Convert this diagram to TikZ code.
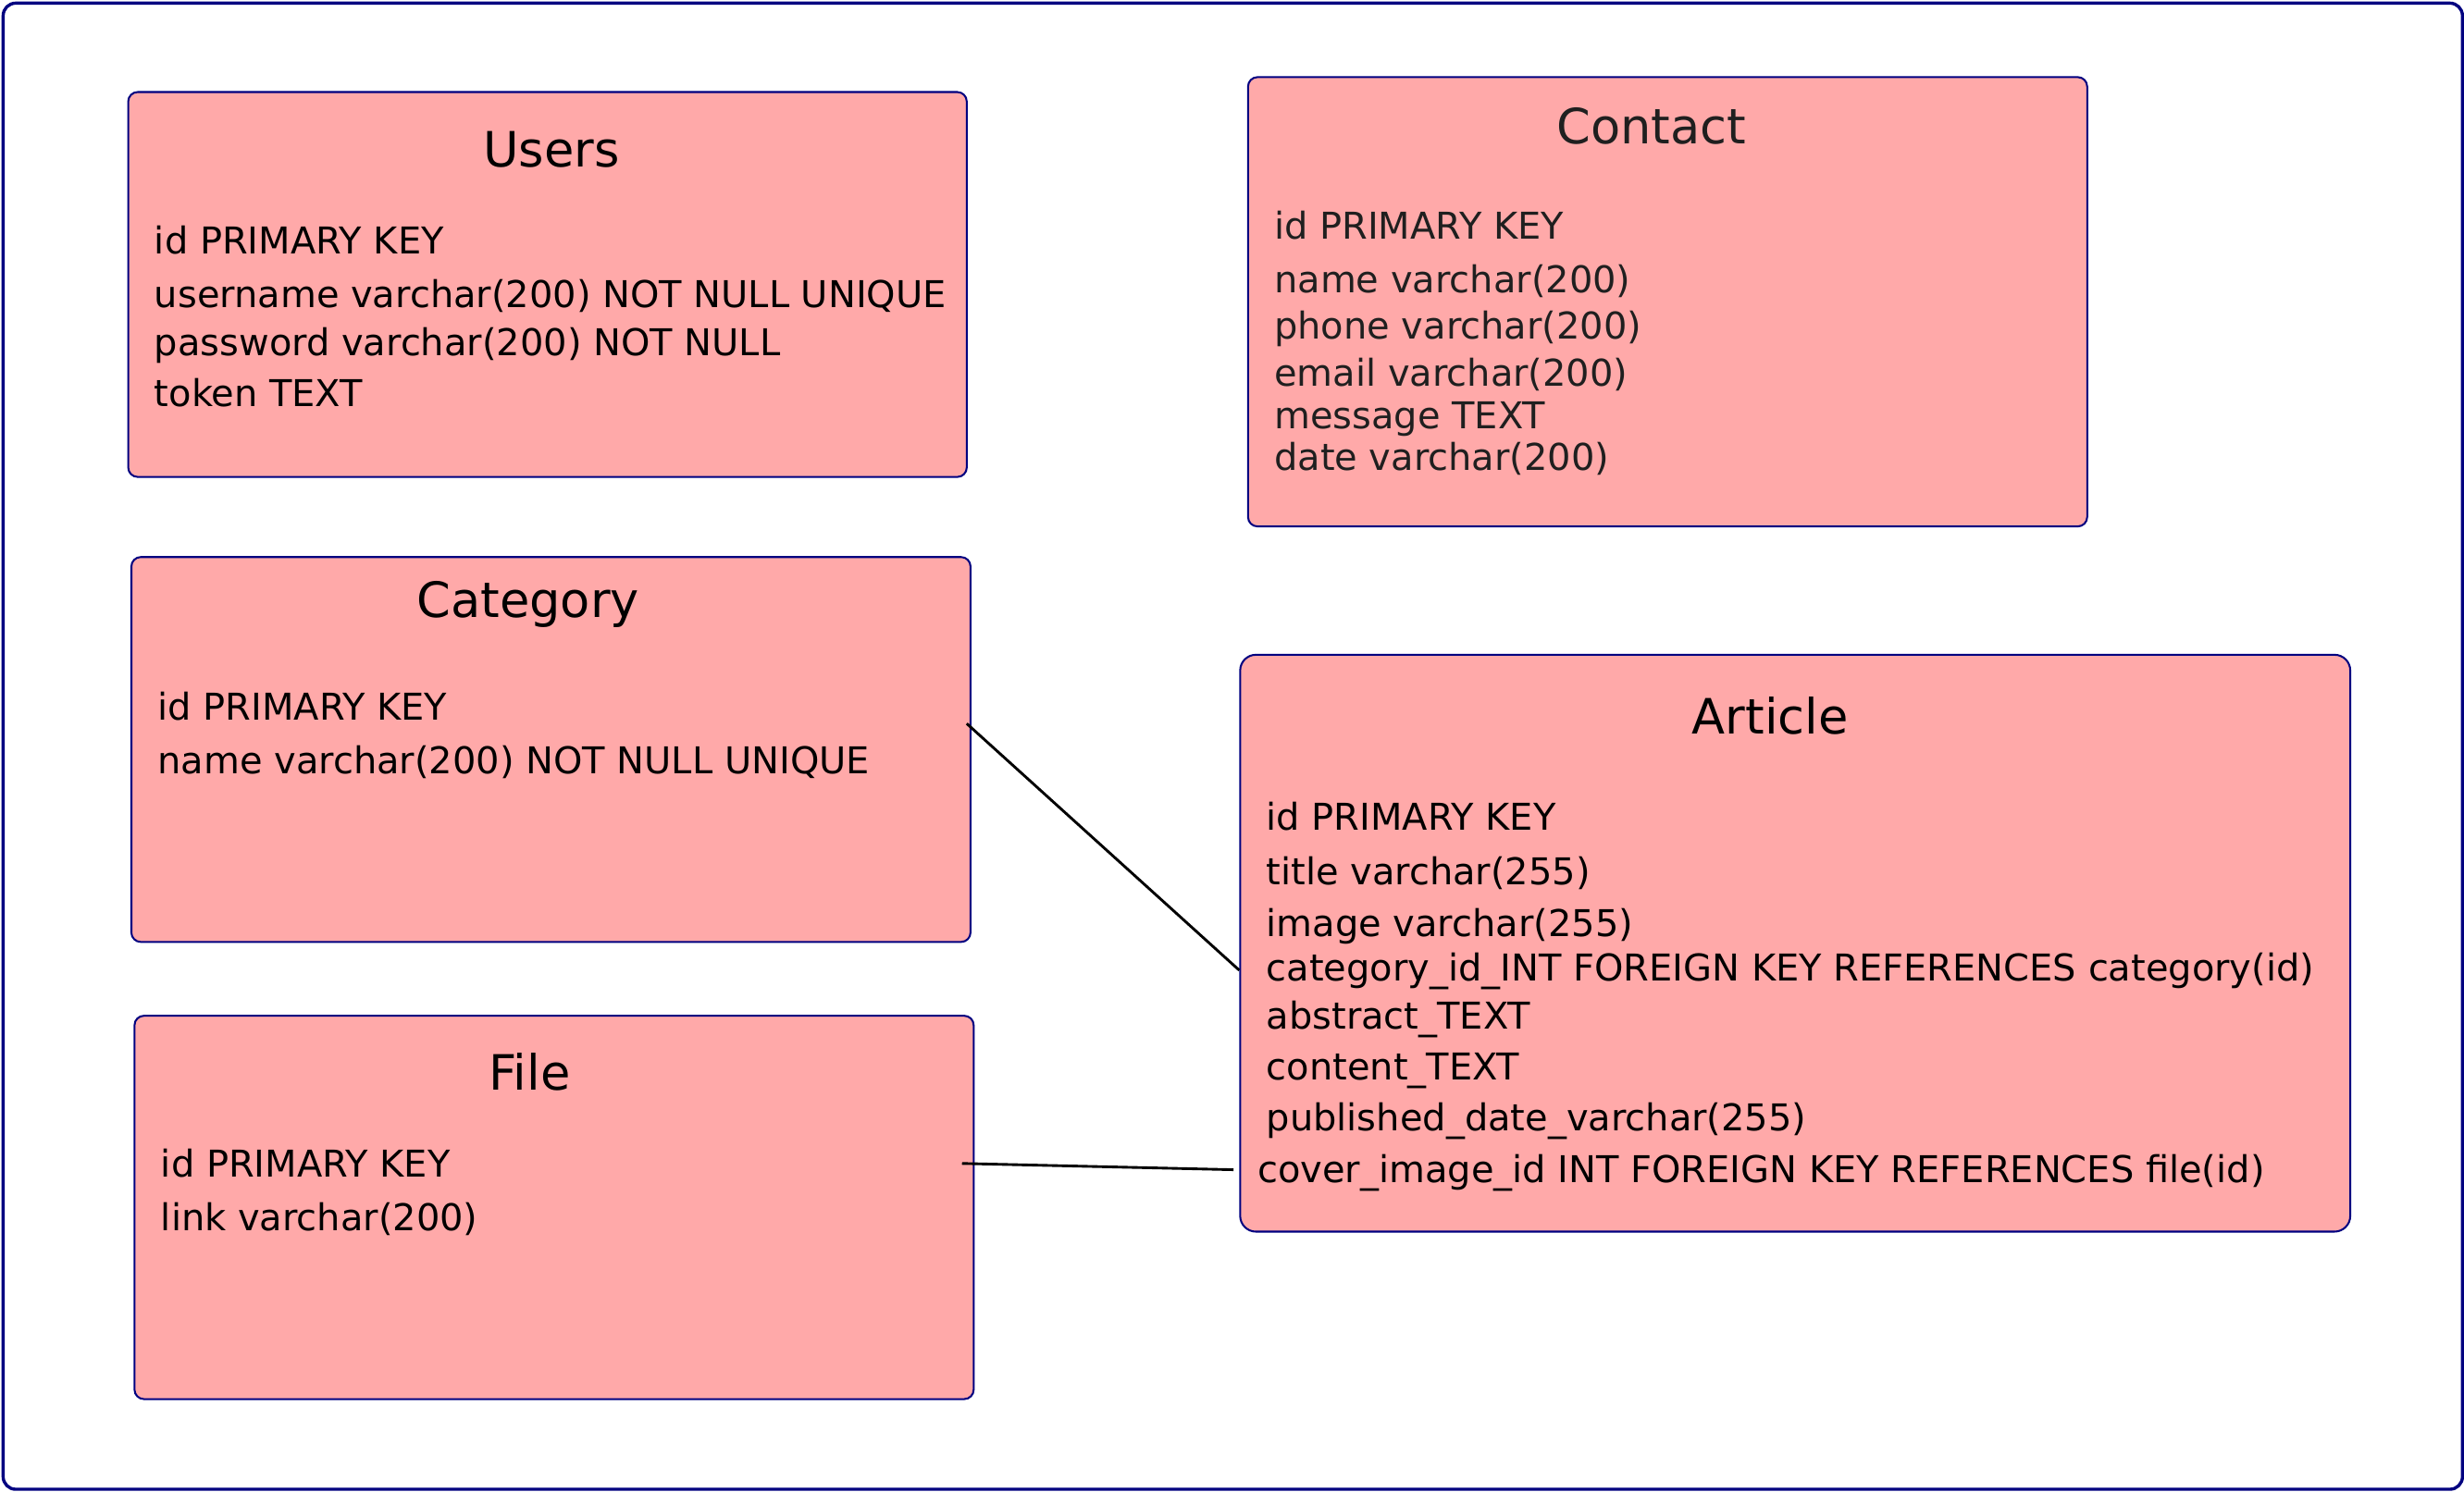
\documentclass[tikz,border=0pt]{standalone}
\usepackage{fontspec}
\setmainfont{DejaVu Sans}
\definecolor{boxfill}{HTML}{FFA9A9}
\definecolor{boxline}{HTML}{000080}
\definecolor{graytext}{HTML}{1F1F1F}
\begin{document}
\begin{tikzpicture}[x=0.5pt,y=-0.5pt,
  box/.style={draw=boxline, fill=boxfill, line width=0.6pt, rounded corners=3pt, inner sep=0pt, anchor=north west},
  ttl/.style={font=\fontsize{15.5}{18}\selectfont, anchor=base, inner sep=0pt},
  fld/.style={font=\fontsize{11.76}{14}\selectfont, anchor=base west, inner sep=0pt},
  link/.style={draw=black, line width=0.85pt}]
\useasboundingbox (0,0) rectangle (1568,949.17);
\node[draw=boxline, line width=1pt, rounded corners=4pt, minimum width=782.5pt, minimum height=473pt, anchor=north west, inner sep=0pt] (frame) at (1,1) {};

% Users
\node[box, minimum width=266.8pt, minimum height=122.5pt] (users) at (81,58) {};
\node[ttl] (usersT) at (351,106.5) {Users};
\node[fld] (u1) at (97.9,161.5) {id PRIMARY KEY};
\node[fld] (u2) at (97.9,195.5) {username varchar(200) NOT NULL UNIQUE};
\node[fld] (u3) at (97.9,226.5) {password varchar(200) NOT NULL};
\node[fld] (u4) at (97.9,258.5) {token TEXT};

% Contact
\node[box, minimum width=267pt, minimum height=143pt] (contact) at (793.6,48.5) {};
\begin{scope}[every node/.append style={text=graytext}]
\node[ttl] (contactT) at (1050.9,91.5) {Contact};
\node[fld] (c1) at (810.5,152.3) {id PRIMARY KEY};
\node[fld] (c2) at (810.5,186.2) {name varchar(200)};
\node[fld] (c3) at (810.5,215.8) {phone varchar(200)};
\node[fld] (c4) at (810.5,245.6) {email varchar(200)};
\node[fld] (c5) at (810.5,273) {message TEXT};
\node[fld] (c6) at (810.5,299.3) {date varchar(200)};
\end{scope}

% Category
\node[box, minimum width=267pt, minimum height=122.5pt] (category) at (83,354) {};
\node[ttl] (categoryT) at (336,393) {Category};
\node[fld] (k1) at (100,458.5) {id PRIMARY KEY};
\node[fld] (k2) at (100,492.5) {name varchar(200) NOT NULL UNIQUE};

% File
\node[box, minimum width=267pt, minimum height=122pt] (file) at (85,646) {};
\node[ttl] (fileT) at (337,694) {File};
\node[fld] (f1) at (102,749.5) {id PRIMARY KEY};
\node[fld] (f2) at (102,783.5) {link varchar(200)};

% Article
\node[box, rounded corners=5pt, minimum width=353.2pt, minimum height=183.6pt] (article) at (788.6,416.2) {};
\node[ttl] (articleT) at (1126.5,467.5) {Article};
\node[fld] (a1) at (805.5,528.5) {id PRIMARY KEY};
\node[fld] (a2) at (805.5,563) {title varchar(255)};
\node[fld] (a3) at (805.5,596) {image varchar(255)};
\node[fld] (a4) at (805.5,624.2) {category\_id\_INT FOREIGN KEY REFERENCES category(id)};
\node[fld] (a5) at (805.5,655) {abstract\_TEXT};
\node[fld] (a6) at (805.5,687.3) {content\_TEXT};
\node[fld] (a7) at (805.5,720) {published\_date\_varchar(255)};
\node[fld] (a8) at (799.9,752.7) {cover\_image\_id INT FOREIGN KEY REFERENCES file(id)};

% connectors
\draw[link] ([xshift=-1.5pt,yshift=8.25pt]category.east) -- ([yshift=-8.6pt]article.west);
\draw[link] ([xshift=-4pt,yshift=14pt]file.east) -- ([xshift=-1.8pt,yshift=-72.1pt]article.west);
\end{tikzpicture}
\end{document}
